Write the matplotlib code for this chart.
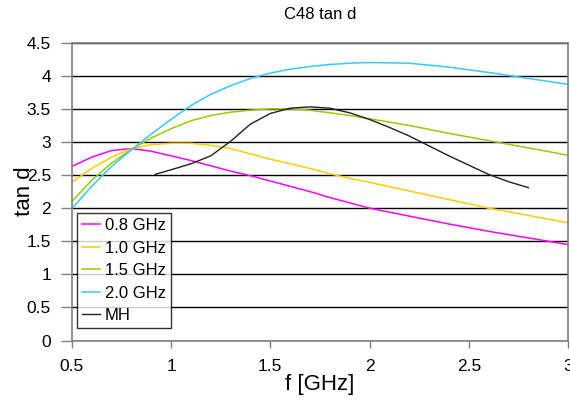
import matplotlib.pyplot as plt

plt.rcParams['font.family'] = ['Liberation Sans', 'DejaVu Sans']

# tan d versus frequency for each measurement frequency
f = [0.5, 0.6, 0.7, 0.8, 0.9, 1.0, 1.1, 1.2, 1.3, 1.4, 1.5, 1.6, 1.7, 1.8, 1.9,
     2.0, 2.2, 2.4, 2.6, 2.8, 3.0]
tan_08 = [2.63, 2.77, 2.87, 2.90, 2.86, 2.79, 2.72, 2.64, 2.56, 2.49, 2.41, 2.33,
          2.25, 2.16, 2.08, 2.00, 1.88, 1.76, 1.65, 1.55, 1.45]
tan_10 = [2.39, 2.60, 2.77, 2.90, 2.96, 2.98, 2.98, 2.95, 2.90, 2.82, 2.74, 2.67,
          2.60, 2.52, 2.45, 2.39, 2.26, 2.13, 2.00, 1.89, 1.78]
tan_15 = [2.10, 2.42, 2.68, 2.89, 3.06, 3.20, 3.32, 3.40, 3.45, 3.48, 3.50, 3.50,
          3.48, 3.44, 3.40, 3.35, 3.25, 3.13, 3.02, 2.91, 2.80]
tan_20 = [1.99, 2.33, 2.63, 2.88, 3.12, 3.34, 3.55, 3.72, 3.85, 3.96, 4.04, 4.10,
          4.14, 4.17, 4.19, 4.20, 4.19, 4.13, 4.05, 3.96, 3.87]

# MH curve
f_mh = [0.92, 1.0, 1.1, 1.2, 1.3, 1.4, 1.5, 1.6, 1.7, 1.8, 1.9, 2.0, 2.1, 2.2,
        2.3, 2.4, 2.5, 2.6, 2.7, 2.8]
tan_mh = [2.51, 2.58, 2.67, 2.79, 3.01, 3.27, 3.43, 3.51, 3.53, 3.51, 3.44, 3.34,
          3.22, 3.09, 2.94, 2.79, 2.65, 2.51, 2.40, 2.31]

series = [
    ('0.8 GHz', tan_08, '#FF00FF'),
    ('1.0 GHz', tan_10, '#FFCC00'),
    ('1.5 GHz', tan_15, '#99CC00'),
    ('2.0 GHz', tan_20, '#33CCFF'),
]

fig = plt.figure(figsize=(5.7, 4.08), dpi=100)
ax = fig.add_axes([0.126, 0.1654, 0.8705, 0.73])

for label, vals, color in series:
    ax.plot(f, vals, color=color, lw=1.1, label=label)
ax.plot(f_mh, tan_mh, color='#222222', lw=1.0, label='MH')

ax.set_xlim(0.5, 3)
ax.set_ylim(0, 4.5)
ax.set_xticks([0.5, 1, 1.5, 2, 2.5, 3])
ax.set_xticklabels(['0.5', '1', '1.5', '2', '2.5', '3'])
ax.set_yticks([0, 0.5, 1, 1.5, 2, 2.5, 3, 3.5, 4, 4.5])
ax.set_yticklabels(['0', '0.5', '1', '1.5', '2', '2.5', '3', '3.5', '4', '4.5'])
ax.yaxis.grid(True, color='black', lw=1.0)
ax.set_axisbelow(True)
ax.tick_params(labelsize=12.5, colors='#808080', labelcolor='black',
               direction='out', width=1)
ax.tick_params(axis='y', length=8, pad=7)
ax.tick_params(axis='x', length=5, pad=8)
for sp in ax.spines.values():
    sp.set_color('#808080')
    sp.set_linewidth(1.2)

ax.set_xlabel('f [GHz]', fontsize=16, labelpad=0)
ax.set_ylabel('tan d', fontsize=16)
ax.yaxis.set_label_coords(-0.074, 0.5)
ax.set_title('C48 tan d', fontsize=12, pad=17)

leg = ax.legend(loc='lower left', bbox_to_anchor=(0.01, 0.042), borderaxespad=0,
                fontsize=12, frameon=True, fancybox=False, handlelength=1.1,
                handletextpad=0.3, labelspacing=0.45, borderpad=0.3)
leg.get_frame().set_edgecolor('black')
leg.get_frame().set_linewidth(1.0)

fig.savefig('out.png', dpi=100)
